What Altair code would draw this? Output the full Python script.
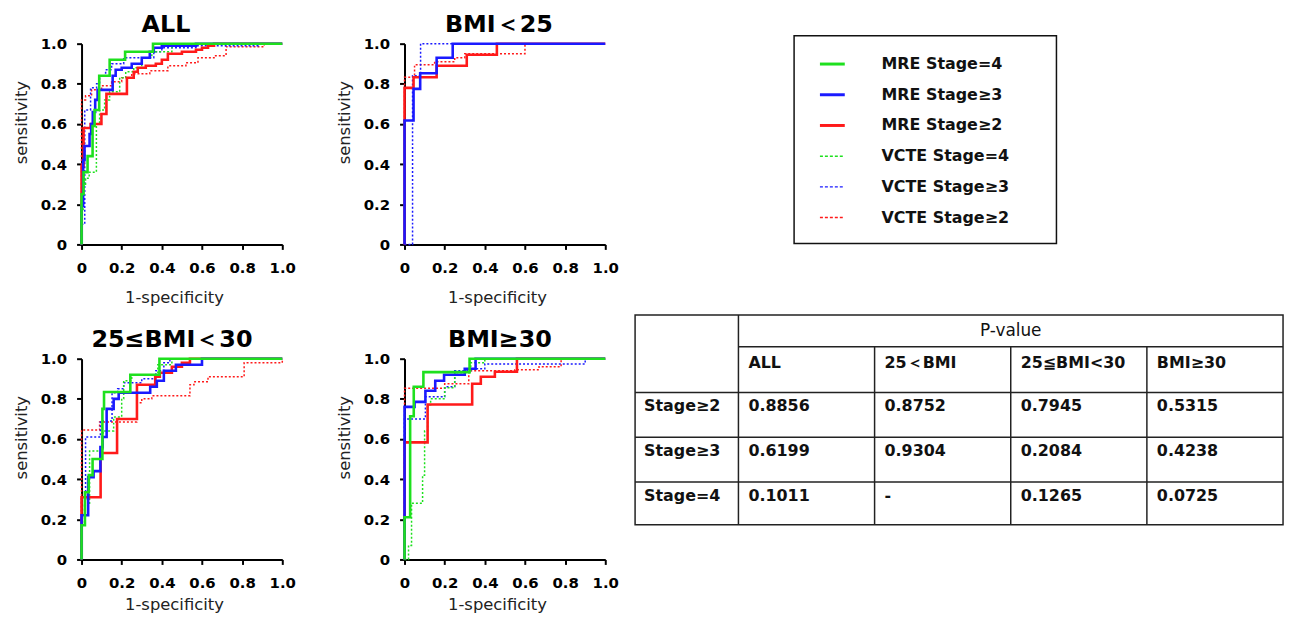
import altair as alt
import pandas as pd

# ---------------- data ----------------
SERIES = ["MRE Stage=4", "MRE Stage≥3", "MRE Stage≥2",
          "VCTE Stage=4", "VCTE Stage≥3", "VCTE Stage≥2"]
COLORS = ["#1ee01e", "#1a1aff", "#ff1a1a", "#1ee01e", "#1a1aff", "#ff1a1a"]

# ROC step points: (1-specificity, sensitivity)
all_mre4 = [(0, 0), (0.01, 0.25), (0.03, 0.36), (0.055, 0.44), (0.065, 0.59), (0.088, 0.67),
            (0.14, 0.84), (0.217, 0.92), (0.356, 0.96), (1.0, 1.0)]
all_mre3 = [(0, 0), (0.008, 0.19), (0.015, 0.42), (0.04, 0.49), (0.048, 0.55), (0.056, 0.6),
            (0.068, 0.66), (0.08, 0.72), (0.155, 0.77), (0.17, 0.84), (0.2, 0.87), (0.25, 0.88),
            (0.3, 0.9), (0.34, 0.93), (0.36, 0.96), (0.4, 0.98), (0.57, 0.99), (1.0, 1.0)]
all_mre2 = [(0, 0), (0.01, 0.39), (0.045, 0.58), (0.099, 0.6), (0.124, 0.65), (0.226, 0.75),
            (0.26, 0.83), (0.28, 0.86), (0.32, 0.88), (0.37, 0.89), (0.4, 0.9), (0.43, 0.92),
            (0.5, 0.95), (0.57, 0.96), (0.6, 0.97), (0.63, 0.98), (0.66, 0.99), (1.0, 1.0)]
all_vcte4 = [(0, 0), (0.008, 0.17), (0.02, 0.3), (0.038, 0.33), (0.074, 0.36), (0.09, 0.6),
             (0.115, 0.67), (0.14, 0.72), (0.19, 0.76), (0.22, 0.83), (0.26, 0.86), (0.3, 0.88),
             (0.35, 0.93), (0.45, 0.96), (0.55, 0.99), (1.0, 1.0)]
all_vcte3 = [(0, 0), (0.016, 0.1), (0.045, 0.67), (0.075, 0.78), (0.09, 0.8), (0.12, 0.84),
             (0.15, 0.87), (0.21, 0.9), (0.36, 0.93), (0.4, 0.96), (0.57, 0.98), (0.88, 0.99),
             (1.0, 1.0)]
all_vcte2 = [(0, 0), (0.02, 0.72), (0.05, 0.74), (0.1, 0.77), (0.15, 0.79), (0.2, 0.81),
             (0.25, 0.83), (0.34, 0.85), (0.43, 0.865), (0.52, 0.89), (0.58, 0.905),
             (0.66, 0.93), (0.72, 0.94), (0.91, 0.985), (1.0, 1.0)]

b25_mre3 = [(0, 0), (0.045, 0.617), (0.078, 0.775), (0.16, 0.853), (0.24, 0.93), (1.0, 1.0)]
b25_mre2 = [(0, 0), (0.045, 0.78), (0.16, 0.833), (0.31, 0.89), (0.46, 0.945), (1.0, 1.0)]
b25_vcte3 = [(0, 0), (0.04, 0.0), (0.08, 0.84), (1.0, 1.0)]
b25_vcte2 = [(0, 0), (0.05, 0.833), (0.15, 0.895), (0.25, 0.91), (0.3, 0.93), (0.6, 0.95),
             (1.0, 1.0)]

b2530_mre4 = [(0, 0), (0.017, 0.17), (0.036, 0.335), (0.055, 0.42), (0.104, 0.5), (0.112, 0.75),
              (0.243, 0.834), (0.388, 0.92), (1.0, 1.0)]
b2530_mre3 = [(0, 0), (0.033, 0.22), (0.06, 0.41), (0.094, 0.44), (0.105, 0.56), (0.125, 0.61),
              (0.16, 0.75), (0.185, 0.8), (0.342, 0.83), (0.375, 0.86), (0.41, 0.89),
              (0.47, 0.94), (0.6, 0.97), (1.0, 1.0)]
b2530_mre2 = [(0, 0), (0.095, 0.31), (0.177, 0.53), (0.276, 0.7), (0.367, 0.87), (0.39, 0.91),
              (0.45, 0.93), (0.5, 0.96), (0.54, 0.98), (1.0, 1.0)]
b2530_vcte4 = [(0, 0), (0.015, 0.17), (0.04, 0.27), (0.107, 0.54), (0.16, 0.64), (0.2, 0.71),
               (0.21, 0.8), (0.25, 0.89), (0.38, 0.92), (0.45, 0.97), (1.0, 1.0)]
b2530_vcte3 = [(0, 0), (0.02, 0.3), (0.094, 0.61), (0.152, 0.69), (0.18, 0.83), (0.21, 0.85),
               (0.3, 0.88), (0.37, 0.9), (0.41, 0.94), (0.44, 0.98), (1.0, 1.0)]
b2530_vcte2 = [(0, 0), (0.09, 0.645), (0.275, 0.685), (0.3, 0.78), (0.35, 0.8), (0.54, 0.815),
               (0.56, 0.87), (0.63, 0.885), (0.81, 0.91), (1.0, 0.98), (1.0, 1.0)]

b30_mre4 = [(0, 0), (0.028, 0.21), (0.046, 0.713), (0.094, 0.86), (0.324, 0.933), (1.0, 1.0)]
b30_mre3 = [(0, 0), (0.05, 0.76), (0.104, 0.785), (0.153, 0.84), (0.197, 0.89), (0.3, 0.92),
            (0.354, 0.95), (1.0, 1.0)]
b30_mre2 = [(0, 0), (0.115, 0.583), (0.337, 0.772), (0.38, 0.875), (0.45, 0.91), (0.56, 0.935),
            (1.0, 1.0)]
b30_vcte4 = [(0, 0), (0.02, 0.0), (0.035, 0.07), (0.09, 0.28), (0.1, 0.42), (0.115, 0.64),
             (0.13, 0.77), (0.2, 0.8), (0.25, 0.855), (0.33, 0.93), (0.4, 0.98), (1.0, 1.0)]
b30_vcte3 = [(0, 0), (0.104, 0.7), (0.2, 0.81), (0.25, 0.86), (0.33, 0.94), (0.4, 0.95),
             (0.9, 0.974), (1.0, 1.0)]
b30_vcte2 = [(0, 0), (0.2, 0.853), (0.32, 0.875), (0.55, 0.94), (0.67, 0.945), (0.78, 0.96),
             (1.0, 1.0)]

# table
TABLE_COLS = ["ALL", "25＜BMI", "25≦BMI<30", "BMI≥30"]
TABLE_ROWS = ["Stage≥2", "Stage≥3", "Stage=4"]
P_STAGE2 = ["0.8856", "0.8752", "0.7945", "0.5315"]
P_STAGE3 = ["0.6199", "0.9304", "0.2084", "0.4238"]
P_STAGE4 = ["0.1011", "-", "0.1265", "0.0725"]

TICKS = [0, 0.2, 0.4, 0.6, 0.8, 1.0]

# ---------------- styling / layout constants ----------------
FONT = "DejaVu Sans"
PW, PH = 202, 202
COLOR_SCALE = alt.Scale(domain=SERIES, range=COLORS)
LBL = "datum.value == 0 ? '0' : format(datum.value, '.1f')"


def roc(title, curves, dx, xtitle_pad):
    rows = []
    for name, pts in curves:
        for i, (x, y) in enumerate(pts):
            rows.append({"series": name, "fpr": x, "tpr": y, "i": i,
                         "kind": name.split(" ")[0]})
    df = pd.DataFrame(rows)
    enc = dict(
        x=alt.X("fpr:Q", scale=alt.Scale(domain=[0, 1], nice=False, zero=False),
                axis=alt.Axis(title="1-specificity", values=TICKS, labelExpr=LBL,
                              labelFlush=False, titleX=PW / 2 - 8,
                              titlePadding=xtitle_pad)),
        y=alt.Y("tpr:Q", scale=alt.Scale(domain=[0, 1], nice=False, zero=False),
                axis=alt.Axis(title="sensitivity", values=TICKS, labelExpr=LBL,
                              titleY=PH / 2 - 22)),
        color=alt.Color("series:N", scale=COLOR_SCALE, legend=None),
        order=alt.Order("i:Q"),
    )
    base = alt.Chart(df)
    dotted = base.transform_filter("datum.kind == 'VCTE'").mark_line(
        interpolate="step-before", strokeWidth=1.5, strokeDash=[2, 2]).encode(**enc)
    solid = base.transform_filter("datum.kind == 'MRE'").mark_line(
        interpolate="step-before", strokeWidth=2.6).encode(**enc)
    return alt.layer(dotted, solid).properties(
        width=PW, height=PH,
        title=alt.TitleParams(title, font=FONT, fontSize=24, fontWeight="bold",
                              color="black", offset=0, dx=dx, anchor="middle"))


p_all = roc("ALL", [("MRE Stage≥2", all_mre2), ("MRE Stage≥3", all_mre3),
                    ("MRE Stage=4", all_mre4), ("VCTE Stage≥2", all_vcte2),
                    ("VCTE Stage≥3", all_vcte3), ("VCTE Stage=4", all_vcte4)], -16, 14)
p_b25 = roc("BMI＜25", [("MRE Stage≥2", b25_mre2), ("MRE Stage≥3", b25_mre3),
                       ("VCTE Stage≥2", b25_vcte2), ("VCTE Stage≥3", b25_vcte3)], -6, 14)
p_2530 = roc("25≤BMI＜30", [("MRE Stage≥2", b2530_mre2), ("MRE Stage≥3", b2530_mre3),
                           ("MRE Stage=4", b2530_mre4), ("VCTE Stage≥2", b2530_vcte2),
                           ("VCTE Stage≥3", b2530_vcte3), ("VCTE Stage=4", b2530_vcte4)],
             -10, 6)
p_b30 = roc("BMI≥30", [("MRE Stage≥2", b30_mre2), ("MRE Stage≥3", b30_mre3),
                      ("MRE Stage=4", b30_mre4), ("VCTE Stage≥2", b30_vcte2),
                      ("VCTE Stage≥3", b30_vcte3), ("VCTE Stage=4", b30_vcte4)], -5, 6)

grid = alt.concat(p_all, p_b25, p_2530, p_b30, columns=2,
                  spacing=alt.RowColnumber(row=22, column=40))

# ---------------- right panel: legend box + p-value table ----------------
OX, OY = 636, 42          # page position of the right panel's origin
RW, RH = 654, 486

def px(v):
    return v - OX

def py(v):
    return v - OY

XS = alt.X("x:Q", scale=alt.Scale(domain=[0, RW], nice=False, zero=False), axis=None)
YS = alt.Y("y:Q", scale=alt.Scale(domain=[0, RH], nice=False, zero=False, reverse=True),
           axis=None)

# legend
LEG_L, LEG_R, LEG_T, LEG_B = 797, 1061, 34, 243
leg_box = alt.Chart(pd.DataFrame([{"x": px(LEG_L), "x2": px(LEG_R),
                                   "y": py(LEG_T), "y2": py(LEG_B)}])).mark_rect(
    fill="white", stroke="#111", strokeWidth=1.5).encode(x=XS, x2="x2:Q", y=YS, y2="y2:Q")

leg_rows = []
for i, s in enumerate(SERIES):
    yy = py(62.5 + i * 30.9)
    leg_rows.append({"series": s, "x": px(823), "x2": px(848), "y": yy,
                     "tx": px(885), "kind": s.split(" ")[0]})
leg_df = pd.DataFrame(leg_rows)
leg_base = alt.Chart(leg_df)
leg_solid = leg_base.transform_filter("datum.kind == 'MRE'").mark_rule(strokeWidth=3).encode(
    x=XS, x2="x2:Q", y=YS, color=alt.Color("series:N", scale=COLOR_SCALE, legend=None))
leg_dot = leg_base.transform_filter("datum.kind == 'VCTE'").mark_rule(
    strokeWidth=1.5, strokeDash=[3, 2]).encode(
    x=XS, x2="x2:Q", y=YS, color=alt.Color("series:N", scale=COLOR_SCALE, legend=None))
leg_text = leg_base.mark_text(align="left", baseline="middle", font=FONT, fontSize=16,
                              fontWeight="bold", color="#111").encode(
    x=alt.X("tx:Q", scale=alt.Scale(domain=[0, RW], nice=False, zero=False), axis=None),
    y=YS, text="series:N")

# table
COL_EDGES = [636, 741, 878, 1015, 1152, 1289]
ROW_EDGES = [315, 347, 393, 438, 483, 526]
table_box = alt.Chart(pd.DataFrame([{"x": px(COL_EDGES[0]) + 1, "x2": px(COL_EDGES[-1]),
                                     "y": py(ROW_EDGES[0]), "y2": py(ROW_EDGES[-1])}])).mark_rect(
    fill="white", stroke="#222", strokeWidth=1.5).encode(x=XS, x2="x2:Q", y=YS, y2="y2:Q")

segs = []
segs.append({"x": px(COL_EDGES[1]), "x2": px(COL_EDGES[1]), "y": py(ROW_EDGES[0]), "y2": py(ROW_EDGES[-1])})
for c in COL_EDGES[2:-1]:
    segs.append({"x": px(c), "x2": px(c), "y": py(ROW_EDGES[1]), "y2": py(ROW_EDGES[-1])})
segs.append({"x": px(COL_EDGES[1]), "x2": px(COL_EDGES[-1]), "y": py(ROW_EDGES[1]), "y2": py(ROW_EDGES[1])})
for r in ROW_EDGES[2:-1]:
    segs.append({"x": px(COL_EDGES[0]) + 1, "x2": px(COL_EDGES[-1]), "y": py(r), "y2": py(r)})
table_lines = alt.Chart(pd.DataFrame(segs)).mark_rule(color="#222", strokeWidth=1.5).encode(
    x=XS, x2="x2:Q", y=YS, y2="y2:Q")

cells = [{"x": px((COL_EDGES[1] + COL_EDGES[-1]) / 2), "y": py(331), "t": "P-value",
          "a": "center", "w": "normal"}]
for j, name in enumerate(TABLE_COLS):
    cells.append({"x": px(COL_EDGES[j + 1] + 10), "y": py(363), "t": name, "a": "left", "w": "bold"})
for i, (rname, vals) in enumerate(zip(TABLE_ROWS, [P_STAGE2, P_STAGE3, P_STAGE4])):
    yy = py(ROW_EDGES[i + 2] + 14)
    cells.append({"x": px(COL_EDGES[0] + 10), "y": yy, "t": rname, "a": "left", "w": "bold"})
    for j, v in enumerate(vals):
        cells.append({"x": px(COL_EDGES[j + 1] + 10), "y": yy, "t": v, "a": "left", "w": "bold"})
cell_df = pd.DataFrame(cells)
txt_center = alt.Chart(cell_df).transform_filter("datum.a == 'center'").mark_text(
    align="center", baseline="middle", font=FONT, fontSize=17, color="#111").encode(
    x=XS, y=YS, text="t:N")
txt_left = alt.Chart(cell_df).transform_filter("datum.a == 'left'").mark_text(
    align="left", baseline="middle", font=FONT, fontSize=16, fontWeight="bold",
    color="#111").encode(x=XS, y=YS, text="t:N")

right = alt.layer(leg_box, leg_solid, leg_dot, leg_text, table_box, table_lines,
                  txt_center, txt_left).properties(width=RW, height=RH)

chart = alt.hconcat(grid, right, spacing=15).properties(
    padding={"left": 5, "top": 3, "right": 5, "bottom": 0}
).configure_view(stroke=None).configure_axis(
    grid=False, domainColor="black", domainWidth=2, tickColor="black", tickWidth=2,
    tickSize=5, labelFont=FONT, labelFontWeight="bold", labelFontSize=15,
    labelColor="black", titleFont=FONT, titleFontWeight="normal", titleFontSize=16.5,
    titleColor="#222").configure_axisX(labelPadding=11).configure_axisY(
    labelPadding=10, titlePadding=11)

chart.save("out.html", embed_options={"renderer": "svg", "actions": False})
